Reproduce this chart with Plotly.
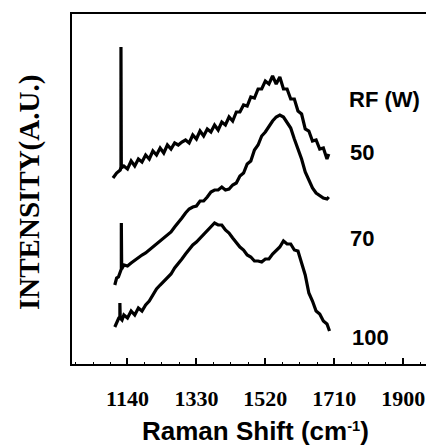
import plotly.graph_objects as go

# Raman shift (cm-1) and intensity (a.u.)
x_50 = [1100, 1110, 1120, 1122, 1122, 1123, 1130, 1140, 1150, 1160, 1170, 1180, 1190, 1200, 1210,
        1220, 1230, 1240, 1250, 1260, 1270, 1280, 1290, 1300, 1310, 1320, 1330, 1340, 1350,
        1360, 1370, 1380, 1390, 1400, 1410, 1420, 1430, 1440, 1450, 1460, 1470, 1480, 1490,
        1500, 1510, 1520, 1530, 1540, 1550, 1560, 1570, 1580, 1590, 1600, 1610, 1620, 1630,
        1640, 1650, 1660, 1670, 1680, 1690, 1695]
y_50 = [186, 191, 194, 197, 317, 196, 198, 195, 203, 198, 205, 202, 209, 205, 213,
        209, 216, 211, 219, 215, 221, 219, 222, 224, 221, 229, 225, 233, 228,
        235, 232, 239, 234, 242, 239, 247, 243, 252, 252, 259, 258, 267, 266,
        275, 275, 283, 280, 288, 280, 287, 275, 275, 265, 265, 253, 250, 235,
        233, 223, 224, 215, 216, 205, 210]

x_70 = [1105, 1110, 1115, 1120, 1123, 1123, 1124, 1130, 1140, 1150, 1160, 1170, 1180, 1190, 1200,
        1210, 1220, 1230, 1240, 1250, 1260, 1270, 1280, 1290, 1300, 1310, 1320, 1330, 1340,
        1350, 1360, 1370, 1380, 1390, 1400, 1410, 1420, 1430, 1440, 1450, 1460, 1470, 1480,
        1490, 1500, 1510, 1520, 1530, 1540, 1550, 1560, 1570, 1580, 1590, 1600, 1610, 1620,
        1630, 1640, 1650, 1660, 1670, 1680, 1690, 1695]
y_70 = [79, 86, 87, 92, 95, 141, 95, 99, 98, 101, 104, 107, 109, 111, 114,
        116, 119, 123, 126, 128, 132, 137, 141, 146, 151, 155, 157, 158, 163,
        163, 167, 172, 174, 174, 177, 174, 175, 179, 181, 188, 191, 200, 203,
        214, 219, 228, 232, 238, 243, 247, 249, 247, 242, 236, 225, 216, 205,
        192, 184, 176, 171, 168, 166, 165, 167]

x_100 = [1105, 1110, 1116, 1119, 1119, 1120, 1125, 1130, 1140, 1150, 1160, 1170, 1180, 1190, 1200,
         1210, 1220, 1230, 1240, 1250, 1260, 1270, 1280, 1290, 1300, 1310, 1320, 1330, 1340,
         1350, 1360, 1370, 1380, 1390, 1400, 1410, 1420, 1430, 1440, 1450, 1460, 1470, 1480,
         1490, 1500, 1510, 1520, 1530, 1540, 1550, 1560, 1570, 1580, 1590, 1600, 1610, 1620,
         1630, 1640, 1650, 1660, 1670, 1680, 1690, 1697]
y_100 = [37, 42, 46, 47, 61, 46, 44, 49, 46, 53, 49, 56, 53, 59, 63,
         69, 75, 79, 83, 87, 90, 96, 100, 105, 110, 115, 119, 122, 126,
         130, 133, 137, 141, 139, 139, 134, 131, 126, 121, 117, 114, 109, 107,
         103, 103, 102, 105, 105, 110, 114, 117, 123, 120, 120, 114, 113, 101,
         89, 71, 63, 53, 50, 43, 40, 33]

tick_vals = [1140, 1330, 1520, 1710, 1900]
tick_text = ["1140", "1330", "1520", "1710", "1900"]
series_labels = ["50", "70", "100"]

fig = go.Figure()
for xs, ys in [(x_50, y_50), (x_70, y_70), (x_100, y_100)]:
    fig.add_trace(go.Scatter(x=xs, y=ys, mode="lines",
                             line=dict(color="black", width=3.2), showlegend=False))

ann_font = dict(family="Liberation Sans, Arial", size=22, color="black", weight="bold")
fig.add_annotation(x=1744, y=265, text="RF (W)", showarrow=False, xanchor="left",
                   yanchor="middle", font=ann_font)
for lab, xv, yv in zip(series_labels, [1747, 1749, 1754], [212, 126, 27]):
    fig.add_annotation(x=xv, y=yv, text=lab, showarrow=False, xanchor="left",
                       yanchor="middle", font=ann_font)

fig.add_annotation(xref="paper", yref="paper", x=0.517, y=-0.19,
                   text="Raman Shift (cm<span style='font-size:21px'><sup>-1</sup></span>)",
                   showarrow=False, xanchor="center", yanchor="middle",
                   font=dict(family="Liberation Sans, Arial", size=26, color="black", weight="bold"))
fig.add_annotation(xref="paper", yref="paper", x=-0.122, y=0.491,
                   text="INTENSITY(A.U.)", showarrow=False, textangle=-90,
                   xanchor="center", yanchor="middle",
                   font=dict(family="Liberation Serif, Times New Roman", size=29, color="black", weight="bold"))

fig.update_xaxes(range=[987, 1963], tickmode="array", tickvals=tick_vals, ticktext=tick_text,
                 ticks="inside", ticklen=6, tickwidth=1.5, tickcolor="black",
                 showline=True, linecolor="black", linewidth=1.5, mirror=True,
                 showgrid=False, zeroline=False, ticklabelstandoff=14,
                 tickfont=dict(family="Liberation Serif, Times New Roman", size=22, color="black", weight="bold"),
                 minor=dict(ticks="inside", ticklen=2, tickwidth=1, tickcolor="black", dtick=47.5, tick0=1140))
fig.update_yaxes(range=[0, 350], showticklabels=False, ticks="",
                 showline=True, linecolor="black", linewidth=1.5, mirror=False,
                 showgrid=False, zeroline=False)

fig.update_layout(width=426, height=445, margin=dict(l=72, r=0, t=14, b=81),
                  plot_bgcolor="white", paper_bgcolor="white")
fig.write_html("out.html")
